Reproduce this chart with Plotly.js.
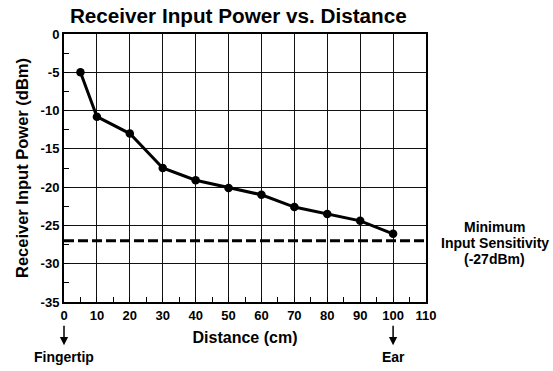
<!DOCTYPE html>
<html><head><meta charset="utf-8">
<script src="https://cdn.plot.ly/plotly-3.0.1.min.js"></script>
<style>body{margin:0;padding:0;background:#fff}#c{width:553px;height:371px}</style>
</head><body><div id="c"></div>
<script>
const distance = [5, 10, 20, 30, 40, 50, 60, 70, 80, 90, 100];
const power = [-5.0, -10.8, -13.0, -17.5, -19.1, -20.1, -21.0, -22.6, -23.5, -24.4, -26.1];
const sensitivity = -27;
const sensitivityLines = ['Minimum', 'Input Sensitivity', '(-27dBm)'];
const xTicks = [0, 10, 20, 30, 40, 50, 60, 70, 80, 90, 100, 110];
const yTicks = [0, -5, -10, -15, -20, -25, -30, -35];
const endLabels = [{x: 0, text: 'Fingertip'}, {x: 100, text: 'Ear'}];

const F = 'Arial, "Liberation Sans", Helvetica, sans-serif';
const bold = (s, c) => ({family: F, size: s, color: c || '#000', weight: 'bold'});

const annotations = [];
endLabels.forEach(e => {
  annotations.push({x: e.x, xref: 'x', y: -0.161, yref: 'paper', text: '', showarrow: true,
    arrowhead: 2, arrowsize: 1.1, arrowwidth: 1.5, arrowcolor: '#000', ax: 0, ay: -21});
  annotations.push({x: e.x, xref: 'x', y: -0.207, yref: 'paper', text: e.text, showarrow: false,
    font: bold(14), yanchor: 'middle', xanchor: 'center'});
});
sensitivityLines.forEach((t, i) => {
  annotations.push({x: 1.19, xref: 'paper', y: sensitivity, yref: 'y', yshift: 14 - 16 * i,
    text: t, showarrow: false, font: bold(14), xanchor: 'center', yanchor: 'middle'});
});

Plotly.newPlot('c', [{
  x: distance, y: power, type: 'scatter', mode: 'lines+markers',
  line: {color: '#000', width: 3}, marker: {color: '#000', size: 8.5}
}], {
  width: 553, height: 371,
  margin: {l: 64, r: 127, t: 34, b: 69},
  paper_bgcolor: '#fff', plot_bgcolor: '#fff',
  showlegend: false,
  title: {text: 'Receiver Input Power vs. Distance', font: bold(20.7), x: 0.431, xanchor: 'center', y: 0.957, yanchor: 'middle'},
  xaxis: {range: [0, 110], tickvals: xTicks, ticktext: xTicks.map(String), tickfont: bold(13),
    showgrid: true, gridcolor: '#111', gridwidth: 1, zeroline: false,
    showline: true, linecolor: '#000', linewidth: 2, mirror: true,
    ticks: 'inside', ticklen: 5, tickcolor: '#000',
    minor: {dtick: 5, tick0: 0, ticks: 'inside', ticklen: 5, tickcolor: '#000', showgrid: false},
    title: {text: 'Distance (cm)', font: bold(16), standoff: 10}},
  yaxis: {range: [-35, 0], tickvals: yTicks, ticktext: yTicks.map(String), tickfont: bold(13),
    showgrid: true, gridcolor: '#111', gridwidth: 1, zeroline: false,
    showline: true, linecolor: '#000', linewidth: 2, mirror: true,
    ticks: 'inside', ticklen: 5, tickcolor: '#000',
    minor: {dtick: 2.5, tick0: 0, ticks: 'inside', ticklen: 5, tickcolor: '#000', showgrid: false},
    title: {text: 'Receiver Input Power (dBm)', font: bold(16.5), standoff: 8}},
  shapes: [{type: 'line', xref: 'paper', x0: 0, x1: 1, yref: 'y', y0: sensitivity, y1: sensitivity,
    line: {color: '#000', width: 3, dash: '10px,4px'}}],
  annotations: annotations
}, {staticPlot: true});
</script></body></html>
